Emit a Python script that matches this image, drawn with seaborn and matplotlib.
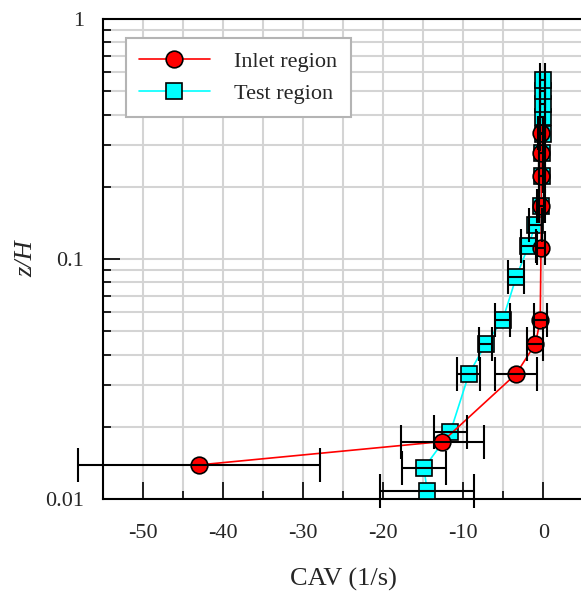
import numpy as np
import seaborn as sns
import matplotlib
matplotlib.use("Agg")
import matplotlib.pyplot as plt
from matplotlib.ticker import MultipleLocator, LogLocator, NullFormatter, FixedLocator

# Inlet region (red circles)
inlet_z = [0.0139, 0.0174, 0.0333, 0.0444, 0.0556, 0.111, 0.167, 0.222, 0.278, 0.334]
inlet_cav = [-43.0, -12.6, -3.4, -1.0, -0.4, -0.3, -0.25, -0.3, -0.3, -0.35]
inlet_err = [15.1, 5.2, 2.6, 1.0, 0.8, 0.5, 0.3, 0.3, 0.3, 0.3]

# Test region (cyan squares)
test_z = [0.0108, 0.0135, 0.0191, 0.0332, 0.0444, 0.0556, 0.0840, 0.113, 0.139,
          0.167, 0.222, 0.278, 0.333, 0.389, 0.444, 0.500, 0.556]
test_cav = [-14.5, -14.9, -11.6, -9.3, -7.2, -5.1, -3.4, -1.9, -1.0,
            -0.3, -0.2, -0.15, -0.1, -0.1, -0.1, -0.1, -0.1]
test_err = [5.85, 2.8, 2.1, 1.45, 0.8, 0.9, 1.0, 0.95, 0.8,
            0.5, 0.4, 0.4, 0.3, 0.3, 0.3, 0.3, 0.3]

sns.set_theme(style="whitegrid")
plt.rcParams["font.family"] = ["Liberation Serif", "DejaVu Serif"]
plt.rcParams["axes.unicode_minus"] = False

fig = plt.figure(figsize=(5.81, 5.93), dpi=100)
W, H = 581, 593
ax = fig.add_axes([102.5 / W, (H - 499.3) / H, (583.5 - 102.5) / W, (499.3 - 19) / H])
ax.set_facecolor("white")

sns.lineplot(x=test_cav, y=test_z, sort=False, estimator=None, color="#00ffff",
             linewidth=1.2, marker="s", markersize=12, markerfacecolor="#00ffff",
             markeredgecolor="black", markeredgewidth=1.2, label="Test region", ax=ax, zorder=3)
sns.lineplot(x=inlet_cav, y=inlet_z, sort=False, estimator=None, color="red",
             linewidth=1.2, marker="o", markersize=12, markerfacecolor="red",
             markeredgecolor="black", markeredgewidth=1.2, label="Inlet region", ax=ax, zorder=4)

for xs, ys, es in [(test_cav, test_z, test_err), (inlet_cav, inlet_z, inlet_err)]:
    eb = ax.errorbar(xs, ys, xerr=es, fmt="none", ecolor="black", elinewidth=1.5,
                     capsize=12, capthick=1.5, zorder=5)
    for art in eb.get_children():
        art.set_clip_on(False)

ax.set_yscale("log")
ax.set_ylim(0.01, 1)
ax.set_xlim(-55, 5)
ax.yaxis.set_major_locator(FixedLocator([0.01, 0.1, 1]))
ax.set_yticklabels(["0.01", "0.1", "1"])
ax.yaxis.set_minor_locator(LogLocator(base=10, subs=np.arange(2, 10)))
ax.yaxis.set_minor_formatter(NullFormatter())
ax.xaxis.set_major_locator(MultipleLocator(10))
ax.xaxis.set_minor_locator(MultipleLocator(5))

ax.grid(True, which="both", color="#d4d4d4", linewidth=1.5)
ax.set_axisbelow(True)
for s in ax.spines.values():
    s.set_color("black")
    s.set_linewidth(1.5)

ax.tick_params(which="major", direction="in", length=12, width=1.2, color="black",
               labelsize=16, bottom=True, left=True, top=False, right=False)
ax.tick_params(which="minor", direction="in", length=6, width=1.2, color="black",
               bottom=True, left=True, top=False, right=False)
ax.tick_params(axis="x", which="major", pad=18)
ax.tick_params(axis="y", which="major", pad=13)

ax.set_xlabel("CAV (1/s)", fontsize=19, labelpad=18)
ax.set_ylabel("z/H", fontsize=19, fontstyle="italic", labelpad=6)

handles, labels = ax.get_legend_handles_labels()
order = [labels.index("Inlet region"), labels.index("Test region")]
leg = ax.legend([handles[i] for i in order], [labels[i] for i in order],
                loc="upper left", bbox_to_anchor=(0.048, 0.96), borderaxespad=0,
                fontsize=16, handlelength=3.2, handletextpad=1.1, labelspacing=0.5,
                fancybox=False, framealpha=1, edgecolor="#b4b4b4", borderpad=0.6)
leg.get_frame().set_linewidth(1.5)

fig.savefig("out.png", dpi=100)
